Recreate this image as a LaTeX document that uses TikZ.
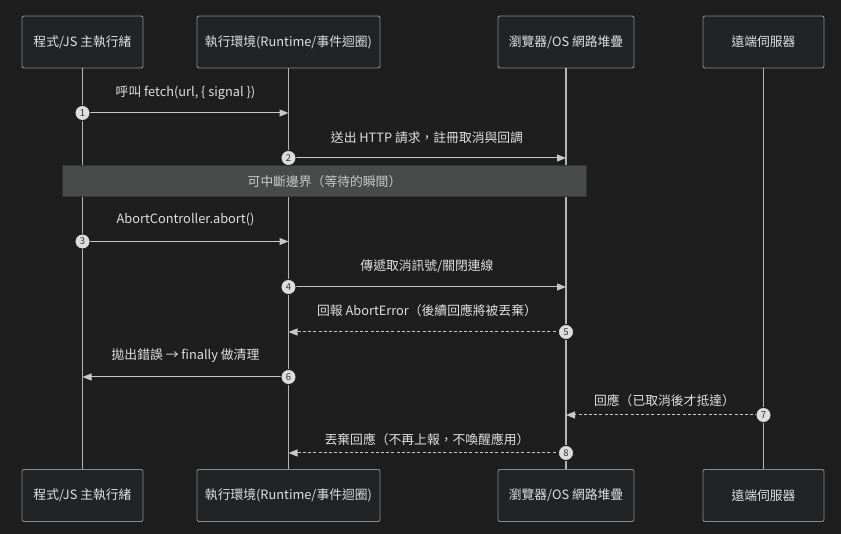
\documentclass[tikz,border=0pt]{standalone}
\usepackage{fontspec}
\setmainfont{Noto Sans CJK TC}
\usetikzlibrary{arrows.meta}
\definecolor{bg}{HTML}{1E1E1E}
\definecolor{boxfill}{HTML}{222324}
\definecolor{boxline}{HTML}{8A8A8A}
\definecolor{txt}{HTML}{E0E0E0}
\definecolor{lifeln}{HTML}{B4B4B4}
\definecolor{msgln}{HTML}{C8C8C8}
\definecolor{notefill}{HTML}{494A4A}
\definecolor{noteline}{HTML}{333333}
\definecolor{badge}{HTML}{DDDDDD}
\tikzset{
  actor/.style={draw=boxline, fill=boxfill, rounded corners=2pt, line width=0.9pt,
    minimum height=52pt, text=txt, font=\fontsize{12.8}{14}\selectfont, inner sep=0pt},
  life/.style={draw=lifeln, line width=1.3pt},
  msg/.style={draw=msgln, line width=1pt, -{Triangle[length=9pt,width=7pt]}, color=msgln},
  ret/.style={msg, dash pattern=on 3pt off 2.2pt},
  lbl/.style={text=txt, font=\fontsize{12.8}{14}\selectfont, inner sep=0pt},
  num/.style={circle, fill=badge, draw=bg, line width=0.8pt, minimum size=15pt, inner sep=0pt,
    text=black!80, font=\fontsize{9.5}{10}\selectfont},
  notebox/.style={draw=noteline, fill=notefill, line width=1pt, text=txt!90!black,
    font=\fontsize{12.8}{14}\selectfont, inner sep=0pt}
}
\begin{document}
\begin{tikzpicture}[x=1pt,y=-1pt]
\fill[bg] (0,0) rectangle (841,534);
\useasboundingbox (0,0) rectangle (841,534);
% participants top
\node[actor, minimum width=121pt] (a1) at (82.5,42) {程式/JS 主執行緒};
\node[actor, minimum width=183pt] (a2) at (288.5,42) {執行環境(Runtime/事件迴圈)};
\node[actor, minimum width=136pt] (a3) at (566,42) {瀏覽器/OS 網路堆疊};
\node[actor, minimum width=121pt] (a4) at (763.5,42) {遠端伺服器};
% participants bottom
\node[actor, minimum width=121pt] (b1) at (82.5,495.5) {程式/JS 主執行緒};
\node[actor, minimum width=183pt] (b2) at (288.5,495.5) {執行環境(Runtime/事件迴圈)};
\node[actor, minimum width=136pt] (b3) at (566,495.5) {瀏覽器/OS 網路堆疊};
\node[actor, minimum width=121pt] (b4) at (763.5,495.5) {遠端伺服器};
% lifelines
\draw[life] (a1.south) -- (b1.north);
\draw[life] (a2.south) -- (b2.north);
\draw[life] (a3.south) -- (b3.north);
\draw[life] (a4.south) -- (b4.north);
% note
\node[notebox, minimum width=524pt, minimum height=31pt] (nt) at (324.5,181.5) {可中斷邊界（等待的瞬間）};
% message endpoints
\coordinate (m1s) at (82.5,113);  \coordinate (m1e) at (288.5,113);
\coordinate (m2s) at (288.5,158); \coordinate (m2e) at (566,158);
\coordinate (m3s) at (82.5,241.5);  \coordinate (m3e) at (288.5,241.5);
\coordinate (m4s) at (288.5,287); \coordinate (m4e) at (566,287);
\coordinate (m5s) at (566,332);   \coordinate (m5e) at (288.5,332);
\coordinate (m6s) at (288.5,377); \coordinate (m6e) at (82.5,377);
\coordinate (m7s) at (763.5,415); \coordinate (m7e) at (566,415);
\coordinate (m8s) at (566,453);   \coordinate (m8e) at (288.5,453);
% messages
\draw[msg] (m1s) -- (m1e);
\draw[msg] (m2s) -- (m2e);
\draw[msg] (m3s) -- (m3e);
\draw[msg] (m4s) -- (m4e);
\draw[ret] (m5s) -- (m5e);
\draw[msg] (m6s) -- (m6e);
\draw[ret] (m7s) -- (m7e);
\draw[ret] (m8s) -- (m8e);
% labels
\node[lbl] (l1) at (185.5,92.5) {呼叫 fetch(url, \{ signal \})};
\node[lbl] (l2) at (427,137.5) {送出 HTTP 請求，註冊取消與回調};
\node[lbl] (l3) at (185.5,219.5) {AbortController.abort()};
\node[lbl] (l4) at (427,266) {傳遞取消訊號/關閉連線};
\node[lbl] (l5) at (427,311) {回報 AbortError（後續回應將被丟棄）};
\node[lbl] (l6) at (185.5,355.5) {拋出錯誤 → finally 做清理};
\node[lbl] (l7) at (664.5,400.5) {回應（已取消後才抵達）};
\node[lbl] (l8) at (427,439.5) {丟棄回應（不再上報，不喚醒應用）};
% numbers
\node[num] (n1) at (m1s) {1};
\node[num] (n2) at (m2s) {2};
\node[num] (n3) at (m3s) {3};
\node[num] (n4) at (m4s) {4};
\node[num] (n5) at (m5s) {5};
\node[num] (n6) at (m6s) {6};
\node[num] (n7) at (m7s) {7};
\node[num] (n8) at (m8s) {8};
\end{tikzpicture}
\end{document}
